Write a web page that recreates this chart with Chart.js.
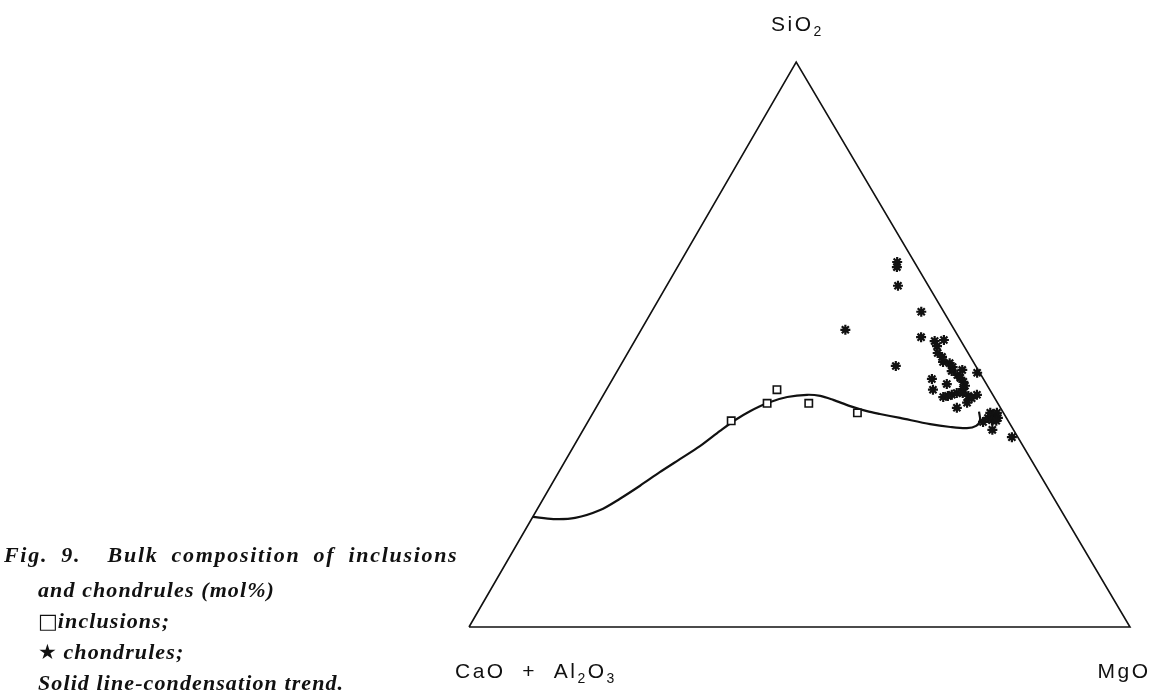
<!DOCTYPE html>
<html>
<head>
<meta charset="utf-8">
<title>Bulk composition of inclusions and chondrules</title>
<script src="https://cdn.jsdelivr.net/npm/chart.js@4.4.1/dist/chart.umd.min.js"></script>
<style>
  body { margin: 0; background: #fff; }
  #wrap { position: relative; width: 1153px; height: 695px; }
  #caption {
    position: absolute; left: 4px; top: 536px;
    font: italic bold 22px "Liberation Serif", "Times New Roman", serif;
    line-height: 31px; color: #111; letter-spacing: 1.1px;
  }
  #caption div { padding-left: 34px; white-space: pre; }
  #caption div.first { padding-left: 0; line-height: 38px; letter-spacing: 1.7px; word-spacing: 6px; }
  #caption .sym { font: normal 21px "DejaVu Sans", sans-serif; letter-spacing: 0; }
</style>
</head>
<body>
<div id="wrap">
  <canvas id="ternary"></canvas>
  <div id="caption">
    <div class="first">Fig. 9.  Bulk composition of inclusions</div>
    <div>and chondrules (mol%)</div>
    <div><span class="sym">□</span>inclusions;</div>
    <div><span class="sym">★</span> chondrules;</div>
    <div>Solid line-condensation trend.</div>
  </div>
</div>
<script>
// compositions in mol%; CaO + Al2O3 is the remainder to 100
const cornerLabels = ['CaO + Al2O3', 'MgO', 'SiO2'];
const cornerSiO2 = [0, 0, 100, 0];
const cornerMgO = [0, 100, 0, 0];

const inclusionSiO2 = [36.5, 39.6, 42.0, 39.6, 37.9];
const inclusionMgO = [21.6, 25.5, 25.8, 31.8, 40.0];

const chondruleSiO2 = [
  64.6, 63.7, 60.4, 52.6, 55.8, 51.3, 46.2, 50.6, 49.7, 50.8,
  48.5, 47.8, 46.9, 46.7, 46.0, 45.3, 45.5, 45.0, 44.6, 44.1,
  43.9, 43.4, 43.0, 42.7, 42.1, 42.0, 40.7, 40.9, 41.1, 41.4,
  41.4, 40.9, 40.5, 41.1, 38.8, 39.7, 36.3, 37.0, 37.9, 37.5,
  37.9, 37.0, 36.6, 36.5, 34.9, 33.6
];
const chondruleMgO = [
  32.8, 33.2, 35.0, 30.9, 40.8, 43.0, 41.7, 45.4, 46.2, 46.7,
  46.9, 47.9, 48.5, 49.6, 50.4, 50.6, 52.1, 54.6, 51.8, 52.5,
  48.3, 53.3, 51.0, 53.9, 53.9, 49.4, 51.6, 52.2, 52.7, 53.3,
  54.2, 55.3, 56.0, 56.5, 54.6, 55.7, 59.8, 60.2, 60.1, 60.7,
  61.1, 61.7, 61.0, 61.7, 61.9, 65.5
];

// condensation trend
const trendSiO2 = [
  19.5, 19.1, 19.3, 20.7, 22.7, 25.0, 27.4, 29.7, 32.0, 34.7,
  36.6, 38.2, 39.7, 40.7, 41.1, 40.9, 40.2, 39.1, 38.2, 37.7,
  37.0, 35.9, 35.4, 35.2, 35.6, 36.6, 38.1
];
const trendMgO = [
  0.0, 3.3, 6.5, 9.6, 11.6, 13.5, 15.3, 17.2, 19.1, 20.8,
  22.1, 23.6, 25.6, 28.0, 30.8, 32.9, 35.2, 38.3, 41.3, 43.5,
  46.9, 52.0, 55.3, 57.9, 59.1, 59.2, 58.3
];

// the SiO2 corner sits slightly left of the middle of the base
const APEX_X = 49.5;

function toXY(si, mg) {
  return si.map((s, i) => ({ x: mg[i] + s * APEX_X / 100, y: s }));
}

// draws a formula, digits as subscripts, with a bit of letter spacing
function drawFormula(ctx, text, x, y, align) {
  const big = '21px "Liberation Sans", Arial, sans-serif';
  const small = '14px "Liberation Sans", Arial, sans-serif';
  const gap = 2.5;
  const parts = text.split('').map(ch => {
    const sub = /[0-9]/.test(ch);
    ctx.font = sub ? small : big;
    return { ch, sub, w: ctx.measureText(ch).width };
  });
  const total = parts.reduce((s, p) => s + p.w + gap, -gap);
  let cx = align === 'right' ? x - total : align === 'center' ? x - total / 2 : x;
  parts.forEach(p => {
    ctx.font = p.sub ? small : big;
    ctx.fillText(p.ch, cx, p.sub ? y + 5 : y);
    cx += p.w + gap;
  });
}

const cornerText = {
  id: 'cornerText',
  afterDraw(chart) {
    const { ctx, scales } = chart;
    const xs = scales.x, ys = scales.y;
    ctx.save();
    ctx.fillStyle = '#111';
    ctx.textBaseline = 'alphabetic';
    ctx.textAlign = 'left';
    const base = ys.getPixelForValue(0);
    drawFormula(ctx, cornerLabels[0].replace(/ \+ /, '  +  '), xs.getPixelForValue(0) - 14, base + 51, 'left');
    drawFormula(ctx, cornerLabels[1], xs.getPixelForValue(100) + 18, base + 51, 'right');
    drawFormula(ctx, cornerLabels[2], xs.getPixelForValue(APEX_X), ys.getPixelForValue(100) - 31, 'center');
    ctx.restore();
  }
};

new Chart(document.getElementById('ternary'), {
  type: 'scatter',
  data: {
    datasets: [
      {
        label: 'inclusions',
        data: toXY(inclusionSiO2, inclusionMgO),
        pointStyle: 'rect',
        pointRadius: 5.2,
        backgroundColor: '#fff',
        borderColor: '#111',
        borderWidth: 1.6
      },
      {
        label: 'chondrules',
        data: toXY(chondruleSiO2, chondruleMgO),
        pointStyle: 'star',
        pointRadius: 5,
        backgroundColor: '#111',
        borderColor: '#111',
        borderWidth: 2.2
      },
      {
        label: 'condensation trend',
        data: toXY(trendSiO2, trendMgO),
        showLine: true,
        tension: 0.3,
        pointRadius: 0,
        borderColor: '#111',
        borderWidth: 2.2,
        clip: false
      },
      {
        label: 'frame',
        data: toXY(cornerSiO2, cornerMgO),
        showLine: true,
        tension: 0,
        pointRadius: 0,
        borderColor: '#111',
        borderWidth: 1.6,
        clip: false
      }
    ]
  },
  options: {
    responsive: true,
    maintainAspectRatio: false,
    animation: false,
    layout: { padding: { left: 469, right: 23, top: 62, bottom: 68 } },
    scales: {
      x: { type: 'linear', min: 0, max: 100, display: false },
      y: { type: 'linear', min: 0, max: 100, display: false }
    },
    plugins: {
      legend: { display: false },
      tooltip: { enabled: false }
    }
  },
  plugins: [cornerText]
});
</script>
</body>
</html>
